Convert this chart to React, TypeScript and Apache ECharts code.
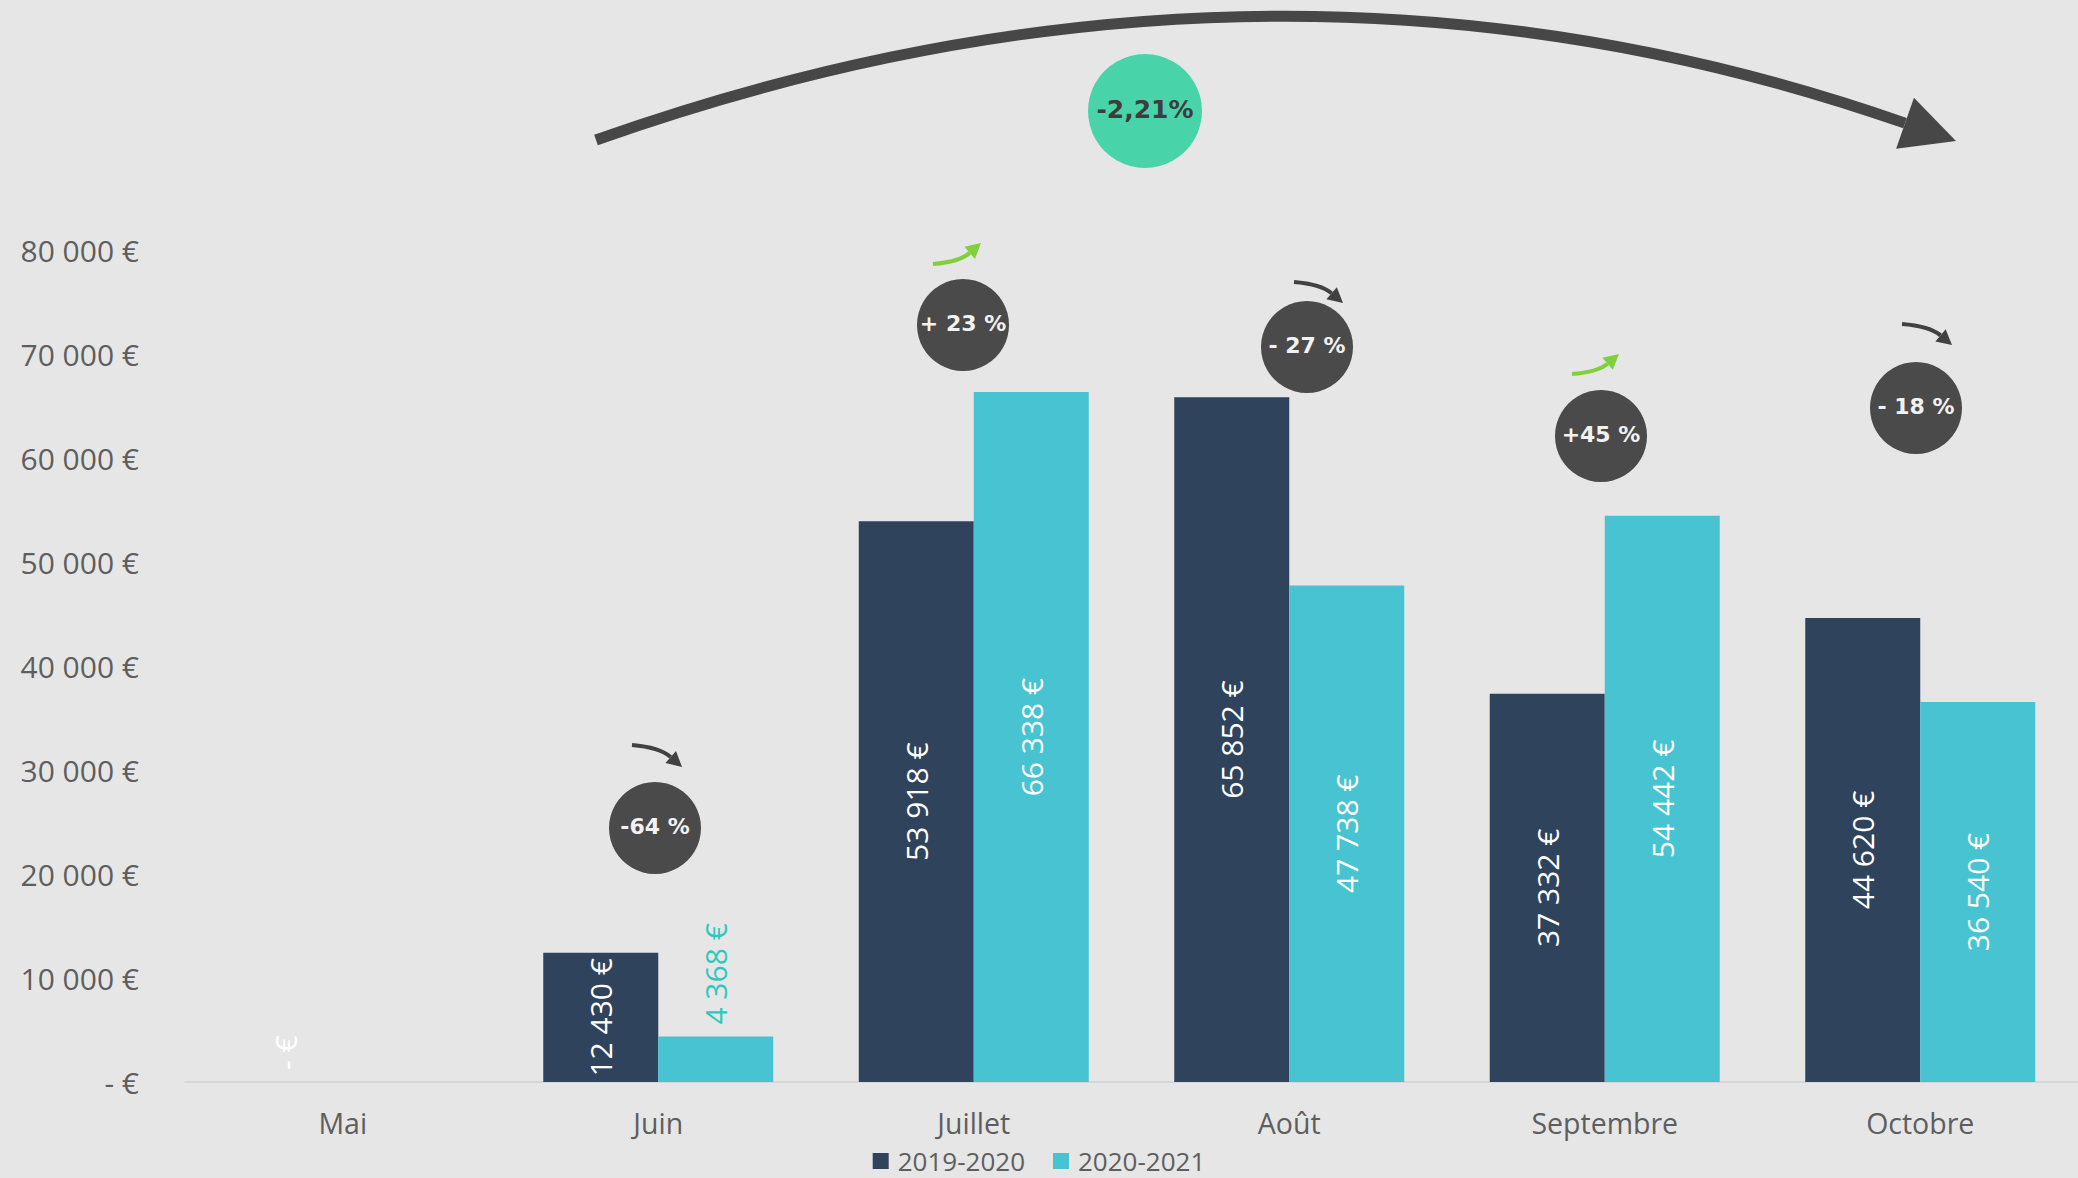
import React, { useEffect, useRef } from 'react';
import * as echarts from 'echarts';

const categories = ['Mai', 'Juin', 'Juillet', 'Août', 'Septembre', 'Octobre'];
const seriesNames = ['2019-2020', '2020-2021'];
const values2019 = [0, 12430, 53918, 65852, 37332, 44620];
const values2020 = [0, 4368, 66338, 47738, 54442, 36540];
const yMax = 80000;
const yInterval = 10000;
const changeLabels = ['-64 %', '+ 23 %', '- 27 %', '+45 %', '- 18 %'];
const changeUp = [false, true, false, true, false];
const totalChange = '-2,21%';

const BG = '#e6e6e6';
const DARK = '#2f435c';
const CYAN = '#48c3d2';
const TEAL = '#2ec9bd';
const BUBBLE = '#4a4a4a';
const GREEN_BUBBLE = '#48d4a8';
const GREEN_ARROW = '#7ed13b';
const DARK_ARROW = '#414141';
const AXIS_TEXT = '#5e5e5e';

// annotation layout (pixels)
const bubblePos = [
  [655, 828],
  [963, 325],
  [1307, 347],
  [1601, 436],
  [1916, 408],
];
const arrowPos = [
  [632, 745, 682, 767],
  [933, 264, 981, 243],
  [1294, 282, 1343, 303],
  [1572, 374, 1619, 354],
  [1902, 324, 1952, 345],
];

const fmt = (v: number) =>
  v === 0 ? '- €' : String(v).replace(/\B(?=(\d{3})+(?!\d))/g, ' ') + ' €';

function arrowEls(
  x0: number, y0: number, cx: number, cy: number, tx: number, ty: number,
  color: string, lw: number, headLen: number, headHalf: number
) {
  let dx = tx - cx;
  let dy = ty - cy;
  const len = Math.sqrt(dx * dx + dy * dy);
  dx /= len;
  dy /= len;
  const bx = tx - dx * headLen;
  const by = ty - dy * headLen;
  const nx = -dy;
  const ny = dx;
  return [
    {
      type: 'bezierCurve',
      shape: { x1: x0, y1: y0, x2: bx, y2: by, cpx1: cx, cpy1: cy },
      style: { stroke: color, lineWidth: lw, fill: null, lineCap: 'butt' },
      silent: true,
    },
    {
      type: 'polygon',
      shape: {
        points: [
          [tx, ty],
          [bx + nx * headHalf, by + ny * headHalf],
          [bx - nx * headHalf, by - ny * headHalf],
        ],
      },
      style: { fill: color },
      silent: true,
    },
  ];
}

function textEl(x: number, y: number, text: string, fill: string, font: string) {
  return {
    type: 'text',
    x,
    y,
    style: {
      text,
      fill,
      font,
      align: 'center',
      verticalAlign: 'middle',
      textAlign: 'center',
      textVerticalAlign: 'middle',
    },
    silent: true,
    z: 10,
  };
}

export default function App() {
  const ref = useRef<HTMLDivElement>(null);

  useEffect(() => {
    document.body.style.margin = '0';
    document.body.style.background = BG;
    if (!ref.current) return;
    const chart = echarts.init(ref.current, undefined, { renderer: 'svg' });

    const labelFont = { fontFamily: 'Open Sans', fontSize: 30 };

    const makeData = (vals: number[], outsideColor: string, hideZero: boolean) =>
      vals.map((v) => {
        if (v < 8000) {
          return {
            value: v,
            label: {
              show: !(hideZero && v === 0),
              position: 'top',
              distance: 12,
              rotate: 90,
              align: 'left',
              verticalAlign: 'middle',
              color: v === 0 ? '#ffffff' : outsideColor,
            },
          };
        }
        return { value: v };
      });

    const graphics: any[] = [];
    // big arc arrow
    graphics.push(...arrowEls(596, 140, 1270, -99, 1956, 141, '#474747', 11, 54, 27));
    // total change bubble
    graphics.push({
      type: 'circle',
      shape: { cx: 1145, cy: 111, r: 57 },
      style: { fill: GREEN_BUBBLE },
      silent: true,
    });
    graphics.push(textEl(1145, 109, totalChange, '#3d3d3d', 'bold 25px "DejaVu Sans"'));
    // month change bubbles and arrows
    changeLabels.forEach((lab, i) => {
      const [cx, cy] = bubblePos[i];
      graphics.push({
        type: 'circle',
        shape: { cx, cy, r: 46 },
        style: { fill: BUBBLE },
        silent: true,
      });
      graphics.push(textEl(cx, cy - 2, lab, '#f2f2f2', 'bold 22px "DejaVu Sans"'));
      const [x0, y0, x1, y1] = arrowPos[i];
      const ccx = x0 + 0.55 * (x1 - x0);
      const ccy = y0 + 0.1 * (y1 - y0);
      graphics.push(
        ...arrowEls(x0, y0, ccx, ccy, x1, y1, changeUp[i] ? GREEN_ARROW : DARK_ARROW, 4, 15, 8)
      );
    });

    chart.setOption({
      animation: false,
      backgroundColor: BG,
      grid: { left: 185, right: 0, top: 250, bottom: 96, containLabel: false },
      legend: {
        data: seriesNames,
        left: 'center',
        top: 1143,
        itemWidth: 16,
        itemHeight: 16,
        itemGap: 28,
        icon: 'rect',
        textStyle: { color: AXIS_TEXT, fontFamily: 'Open Sans', fontSize: 26, padding: [0, 0, 0, 4] },
      },
      xAxis: {
        type: 'category',
        data: categories,
        axisLine: { lineStyle: { color: '#d2d2d2', width: 1.5 } },
        axisTick: { show: false },
        axisLabel: { color: AXIS_TEXT, fontFamily: 'Open Sans', fontSize: 28.5, margin: 26 },
      },
      yAxis: {
        type: 'value',
        min: 0,
        max: yMax,
        interval: yInterval,
        axisLine: { show: false },
        axisTick: { show: false },
        splitLine: { show: false },
        axisLabel: {
          color: AXIS_TEXT,
          fontFamily: 'Open Sans',
          fontSize: 30,
          margin: 46,
          formatter: (v: number) => fmt(v),
        },
      },
      series: [
        {
          name: seriesNames[0],
          type: 'bar',
          barWidth: 115,
          barGap: '0%',
          itemStyle: { color: DARK },
          label: {
            show: true,
            position: 'inside',
            rotate: 90,
            color: '#ffffff',
            ...labelFont,
            formatter: (p: any) => fmt(p.value),
          },
          data: makeData(values2019, '#ffffff', false),
        },
        {
          name: seriesNames[1],
          type: 'bar',
          barWidth: 115,
          barGap: '0%',
          itemStyle: { color: CYAN },
          label: {
            show: true,
            position: 'inside',
            rotate: 90,
            color: '#ffffff',
            ...labelFont,
            formatter: (p: any) => fmt(p.value),
          },
          data: makeData(values2020, TEAL, true),
        },
      ],
      graphic: { elements: graphics },
    });

    return () => {
      chart.dispose();
    };
  }, []);

  return (
    <div
      ref={ref}
      style={{ position: 'absolute', left: 0, top: 0, width: 2078, height: 1178 }}
    />
  );
}
